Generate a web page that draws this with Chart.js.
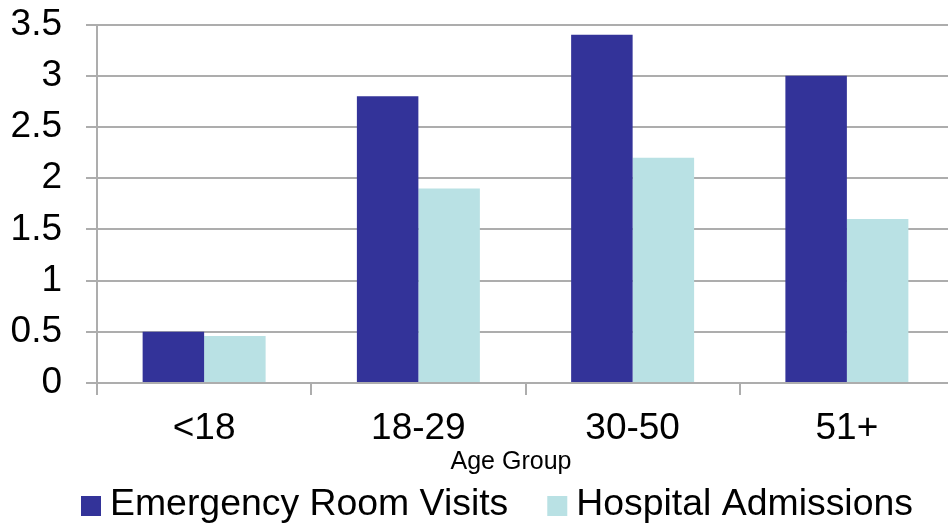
<!DOCTYPE html>
<html>
<head>
<meta charset="utf-8">
<script src="https://cdn.jsdelivr.net/npm/chart.js@4/dist/chart.umd.min.js"></script>
<style>
  html, body { margin: 0; padding: 0; background: #fff; overflow: hidden; }
  #wrap { position: relative; width: 956px; height: 527px; }
</style>
</head>
<body>
<div id="wrap"><canvas id="chart"></canvas></div>
<script>
// Age groups and per-group rates
const categories = ['<18', '18-29', '30-50', '51+'];
const erVisits = [0.5, 2.8, 3.4, 3.0];
const hospitalAdmissions = [0.46, 1.9, 2.2, 1.6];
const seriesNames = ['Emergency Room Visits', 'Hospital Admissions'];
const seriesColors = ['#333399', '#B9E1E4'];
const yTicks = [0, 0.5, 1, 1.5, 2, 2.5, 3, 3.5];
const xAxisTitle = 'Age Group';

const FONT = '"Liberation Sans", Arial, Helvetica, sans-serif';
const GRID = '#ADADAD';

// Draws the axis title and the legend row under the plot
const bottomText = {
  id: 'bottomText',
  afterDraw(chart) {
    const ctx = chart.ctx;
    ctx.save();
    ctx.fillStyle = '#000';
    ctx.textBaseline = 'alphabetic';
    ctx.textAlign = 'center';
    ctx.font = '25px ' + FONT;
    ctx.fillText(xAxisTitle, 511, 469);

    ctx.textAlign = 'left';
    ctx.font = '37.4px ' + FONT;
    let x = 81;
    chart.data.datasets.forEach((ds) => {
      ctx.fillStyle = ds.backgroundColor;
      ctx.fillRect(x, 496, 20, 20);
      ctx.fillStyle = '#000';
      ctx.fillText(ds.label, x + 29, 515);
      x += 29 + ctx.measureText(ds.label).width + 39;
    });
    ctx.restore();
  }
};

new Chart(document.getElementById('chart'), {
  type: 'bar',
  data: {
    labels: categories,
    datasets: [
      { label: seriesNames[0], data: erVisits, backgroundColor: seriesColors[0] },
      { label: seriesNames[1], data: hospitalAdmissions, backgroundColor: seriesColors[1] }
    ]
  },
  options: {
    responsive: true,
    maintainAspectRatio: false,
    animation: false,
    layout: { padding: { top: 24.5, right: 2, bottom: 75, left: 0 } },
    datasets: { bar: { categoryPercentage: 0.574, barPercentage: 1.0, borderWidth: 0 } },
    plugins: { legend: { display: false }, tooltip: { enabled: false } },
    scales: {
      x: {
        offset: true,
        afterFit(scale) { scale.height = 69; },
        grid: {
          offset: true,
          drawOnChartArea: false,
          drawTicks: true,
          tickLength: 12,
          color: GRID,
          lineWidth: 2
        },
        border: { display: true, color: GRID, width: 2 },
        ticks: {
          color: '#000',
          padding: 12,
          font: { family: FONT, size: 37 }
        }
      },
      y: {
        min: 0,
        max: 3.5,
        afterFit(scale) {
          scale.width = 97;
          scale.paddingTop = 0;
          scale.paddingBottom = 0;
        },
        afterBuildTicks(scale) { scale.ticks = yTicks.map(v => ({ value: v })); },
        grid: {
          color: GRID,
          lineWidth: 2,
          drawTicks: true,
          tickLength: 11
        },
        border: { display: true, color: GRID, width: 2 },
        ticks: {
          color: '#000',
          padding: 24,
          font: { family: FONT, size: 37 },
          callback: (v) => String(v)
        }
      }
    }
  },
  plugins: [bottomText]
});
</script>
</body>
</html>
